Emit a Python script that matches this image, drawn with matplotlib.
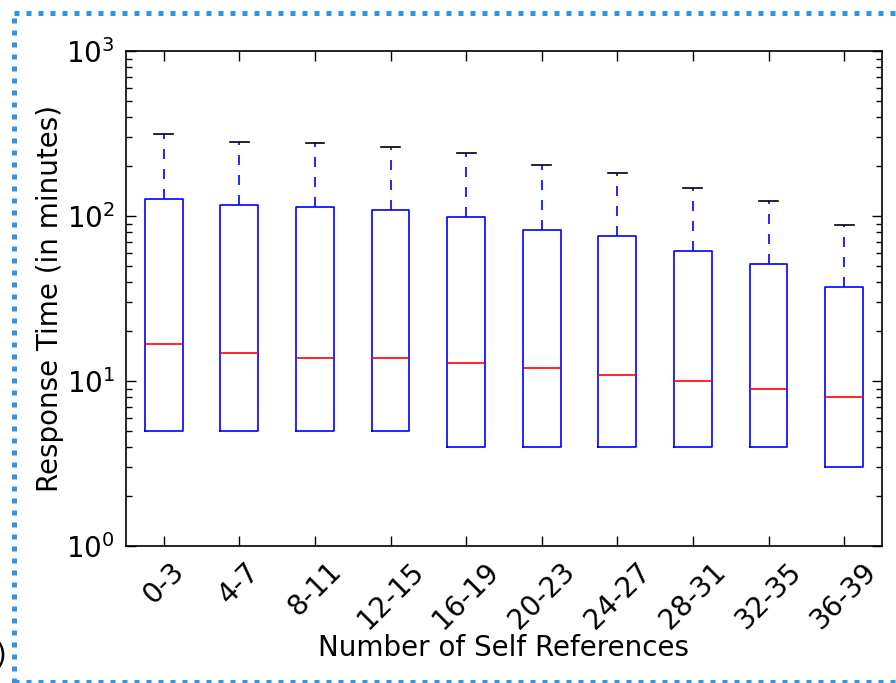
import numpy as np
import matplotlib.pyplot as plt
from matplotlib.lines import Line2D

# response time quartiles per bin of self references (minutes)
bins = ['0-3', '4-7', '8-11', '12-15', '16-19', '20-23', '24-27', '28-31', '32-35', '36-39']
q1 = [5, 5, 5, 5, 4, 4, 4, 4, 4, 3]
med = [16.7, 14.8, 13.8, 13.8, 12.9, 12, 10.9, 10, 9, 8]
q3 = [127, 117, 113, 109, 99, 82, 76, 61, 51, 37]
whishi = [314, 281, 277, 262, 241, 204, 182, 148, 123, 88]

plt.rcParams['font.family'] = 'DejaVu Sans'
plt.rcParams['font.size'] = 20

fig = plt.figure(figsize=(8.96, 6.83), dpi=100)
ax = fig.add_axes([0.1406, 0.2006, 0.8437, 0.7247])

stats = []
for i in range(len(bins)):
    stats.append(dict(label=bins[i], q1=q1[i], med=med[i], q3=q3[i],
                      whislo=q1[i], whishi=whishi[i], fliers=[]))

bp = ax.bxp(stats, widths=0.5, showfliers=False,
            boxprops=dict(color='b', linewidth=1.2),
            medianprops=dict(color='r', linewidth=1.2),
            whiskerprops=dict(color='b', linewidth=1.2, linestyle=(0, (6, 6))),
            capprops=dict(color='k', linewidth=1.2))

# lower whiskers collapse onto the box, hide them
for w in bp['whiskers'][0::2]:
    w.set_visible(False)
for c in bp['caps'][0::2]:
    c.set_visible(False)

ax.set_yscale('log')
ax.set_ylim(1, 1000)
ax.set_xlim(0.5, len(bins) + 0.5)
ax.set_xticks(np.arange(1, len(bins) + 1))
ax.set_xticklabels(bins, rotation=45)
ax.set_ylabel('Response Time (in minutes)', labelpad=2)
ax.set_xlabel('Number of Self References', labelpad=0)

ax.tick_params(which='both', direction='in', top=True, right=True)
ax.tick_params(which='major', length=7, width=1)
ax.tick_params(which='minor', length=4, width=1)
ax.tick_params(axis='x', which='minor', top=False, bottom=False)
ax.tick_params(axis='both', pad=8)
for s in ax.spines.values():
    s.set_linewidth(1.2)

# dotted frame around the panel
frame = dict(color='#2f95e8', linewidth=3.6, linestyle=(0, (1, 1.4)),
             dash_capstyle='butt', transform=fig.transFigure)
fig.lines.append(Line2D([0.0155, 1.0], [0.9805, 0.9805], **frame))
fig.lines.append(Line2D([0.0155, 1.0], [0.002, 0.002], **frame))
fig.lines.append(Line2D([0.0155, 0.0155], [0.0, 0.9805], **frame))

fig.text(0.007, 0.02, ')', ha='right', va='bottom', fontsize=20)

fig.savefig('out.png', dpi=100)
